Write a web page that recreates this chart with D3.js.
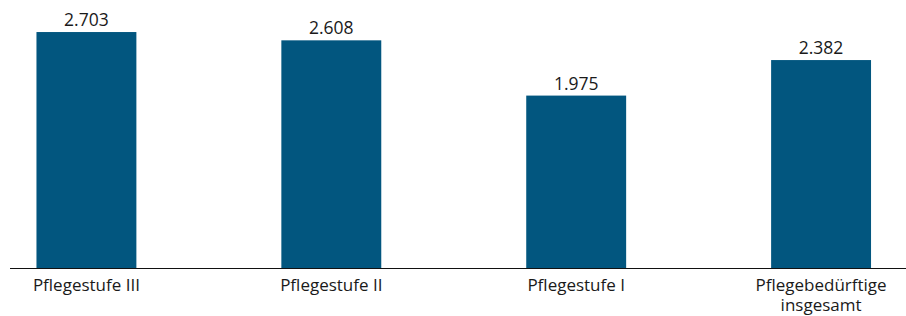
<!DOCTYPE html>
<html>
<head>
<meta charset="utf-8">
<script src="https://cdn.jsdelivr.net/npm/d3@7"></script>
<style>
  body { margin: 0; background: #fff; }
  svg { display: block; font-family: "Open Sans", "Noto Sans", sans-serif; }
</style>
</head>
<body>
<svg id="chart" width="906" height="316"></svg>
<script>
// categories + values (one bar each)
const categories = ["Pflegestufe III", "Pflegestufe II", "Pflegestufe I", "Pflegebedürftige insgesamt"];
const categoryLines = [["Pflegestufe III"], ["Pflegestufe II"], ["Pflegestufe I"], ["Pflegebedürftige", "insgesamt"]];
const values = [2703, 2608, 1975, 2382];

const width = 906, height = 316;
const baseline = 268;
const barColour = "#02567f";

const svg = d3.select("#chart");

const x = d3.scaleBand()
    .domain(categories)
    .range([-37, 944.5])
    .paddingInner(0.592)
    .paddingOuter(0.3);

const y = d3.scaleLinear()
    .domain([0, 3070])
    .range([baseline, 0]);

const fmt = v => d3.format(",")(v).replace(/,/g, ".");

const data = categories.map((c, i) => ({ cat: c, value: values[i], lines: categoryLines[i] }));

// bars
svg.append("g").attr("class", "bars")
    .selectAll("rect")
    .data(data)
    .join("rect")
        .attr("x", d => x(d.cat))
        .attr("width", x.bandwidth())
        .attr("y", d => y(d.value))
        .attr("height", d => y(0) - y(d.value))
        .attr("fill", barColour);

// value labels
svg.append("g").attr("class", "values")
    .selectAll("text")
    .data(data)
    .join("text")
        .attr("x", d => x(d.cat) + x.bandwidth() / 2)
        .attr("y", d => y(d.value) - 6)
        .attr("text-anchor", "middle")
        .attr("font-size", 17.5)
        .attr("fill", "#1a1a1a")
        .text(d => fmt(d.value));

// baseline
svg.append("line")
    .attr("x1", 10).attr("x2", width)
    .attr("y1", baseline + 0.5).attr("y2", baseline + 0.5)
    .attr("stroke", "#111")
    .attr("stroke-width", 1.2);

// category labels
svg.append("g").attr("class", "cats")
    .selectAll("text")
    .data(data)
    .join("text")
        .attr("x", d => x(d.cat) + x.bandwidth() / 2)
        .attr("y", 291)
        .attr("text-anchor", "middle")
        .attr("font-size", 17)
        .attr("fill", "#1a1a1a")
        .each(function (d) {
            d3.select(this).selectAll("tspan")
                .data(d.lines)
                .join("tspan")
                    .attr("x", x(d.cat) + x.bandwidth() / 2)
                    .attr("dy", (l, i) => i ? 20 : 0)
                    .text(l => l);
        });
</script>
</body>
</html>
